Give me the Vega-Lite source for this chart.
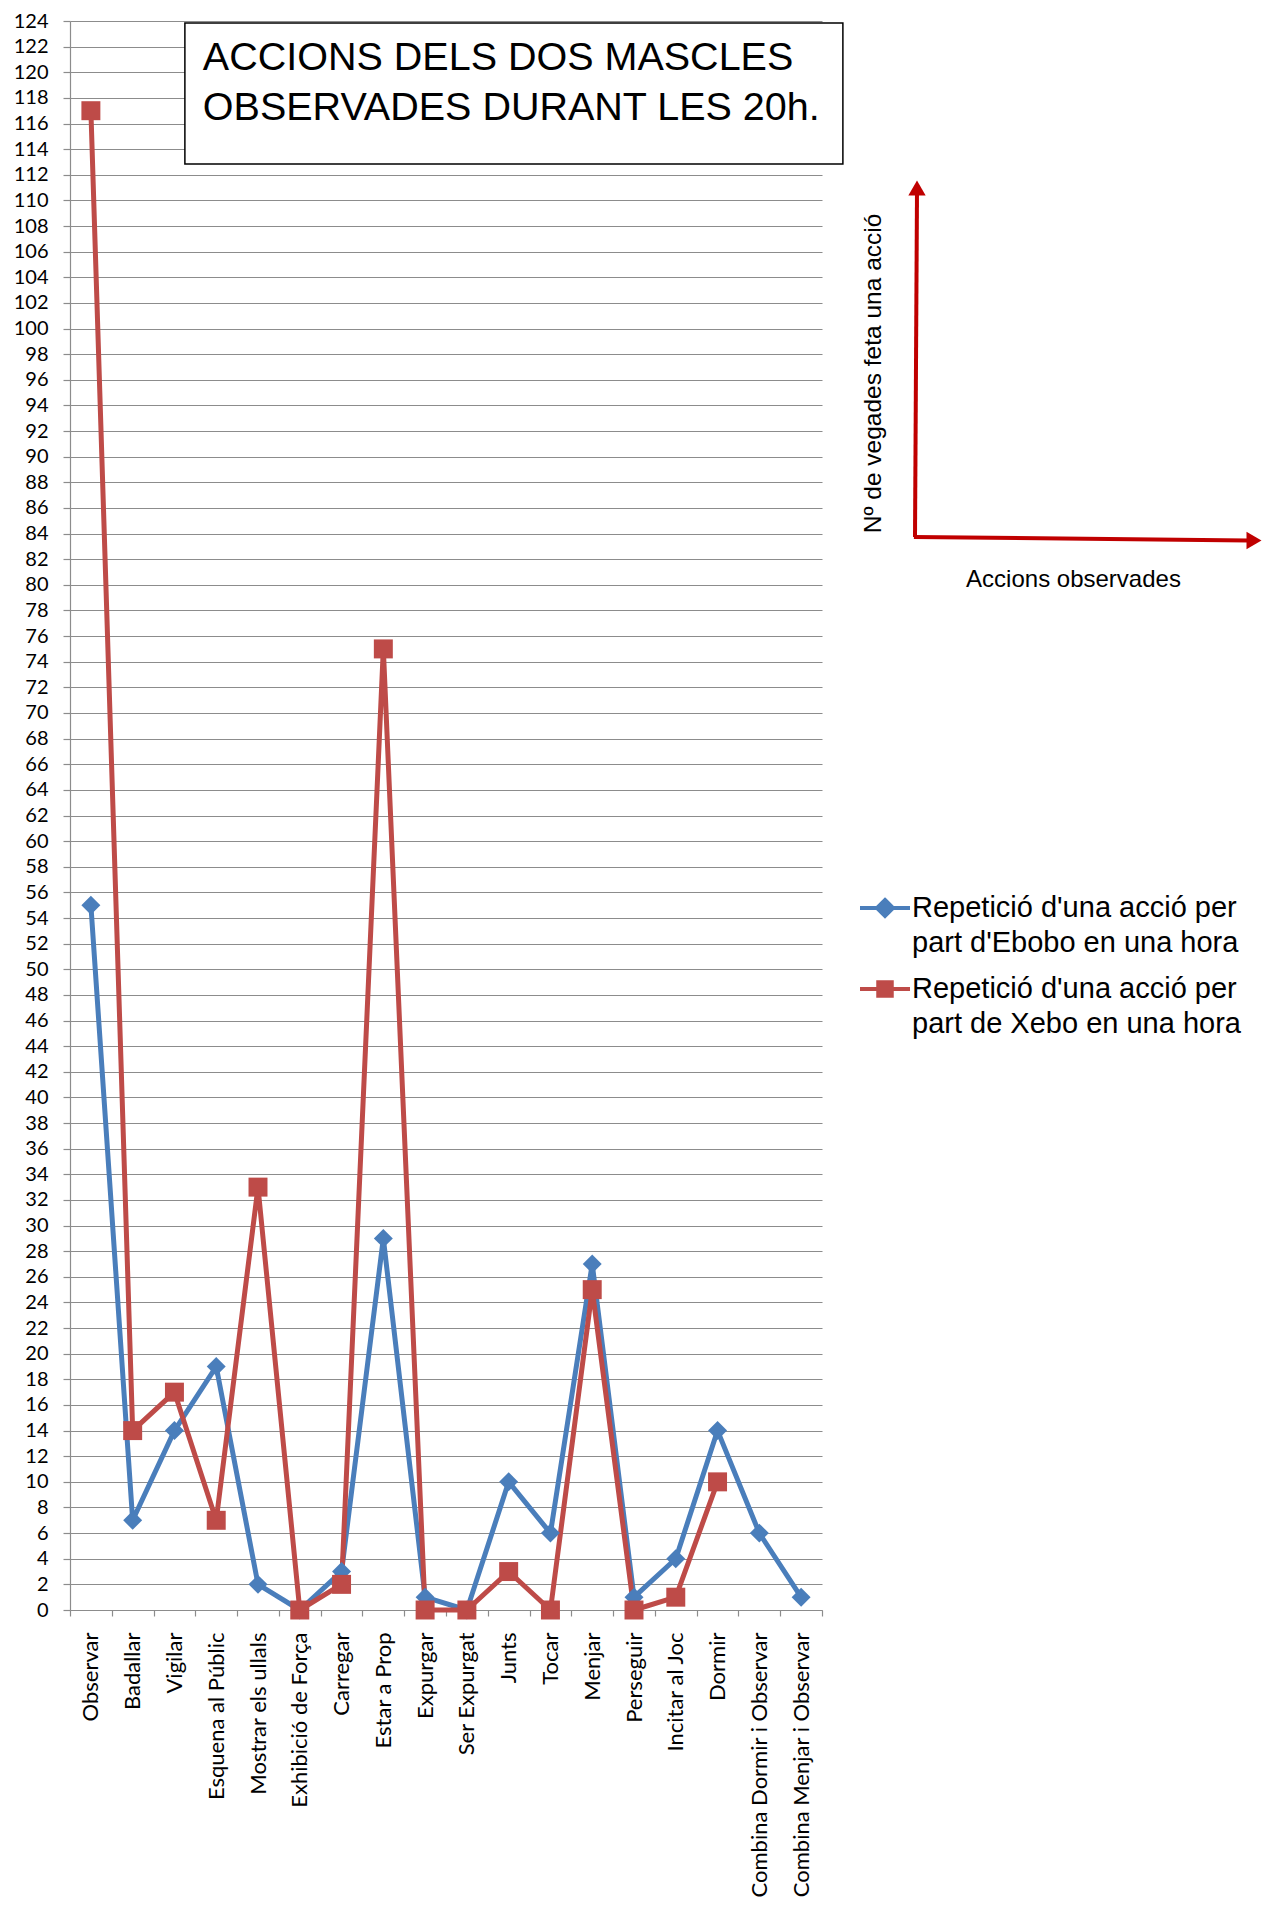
{
  "$schema": "https://vega.github.io/schema/vega-lite/v6.json",
  "autosize": "none",
  "width": 752,
  "height": 1589,
  "padding": {"left": 70, "top": 21, "right": 442, "bottom": 322},
  "background": "white",
  "config": {"view": {"stroke": null}, "font": "Liberation Sans"},
  "datasets": {
    "acc": [
      {"accio": "Observar", "serie": "Repetició d'una acció per part d'Ebobo en una hora", "n": 55},
      {"accio": "Badallar", "serie": "Repetició d'una acció per part d'Ebobo en una hora", "n": 7},
      {"accio": "Vigilar", "serie": "Repetició d'una acció per part d'Ebobo en una hora", "n": 14},
      {"accio": "Esquena al Públic", "serie": "Repetició d'una acció per part d'Ebobo en una hora", "n": 19},
      {"accio": "Mostrar els ullals", "serie": "Repetició d'una acció per part d'Ebobo en una hora", "n": 2},
      {"accio": "Exhibició de Força", "serie": "Repetició d'una acció per part d'Ebobo en una hora", "n": 0},
      {"accio": "Carregar", "serie": "Repetició d'una acció per part d'Ebobo en una hora", "n": 3},
      {"accio": "Estar a Prop", "serie": "Repetició d'una acció per part d'Ebobo en una hora", "n": 29},
      {"accio": "Expurgar", "serie": "Repetició d'una acció per part d'Ebobo en una hora", "n": 1},
      {"accio": "Ser Expurgat", "serie": "Repetició d'una acció per part d'Ebobo en una hora", "n": 0},
      {"accio": "Junts", "serie": "Repetició d'una acció per part d'Ebobo en una hora", "n": 10},
      {"accio": "Tocar", "serie": "Repetició d'una acció per part d'Ebobo en una hora", "n": 6},
      {"accio": "Menjar", "serie": "Repetició d'una acció per part d'Ebobo en una hora", "n": 27},
      {"accio": "Perseguir", "serie": "Repetició d'una acció per part d'Ebobo en una hora", "n": 1},
      {"accio": "Incitar al Joc", "serie": "Repetició d'una acció per part d'Ebobo en una hora", "n": 4},
      {"accio": "Dormir", "serie": "Repetició d'una acció per part d'Ebobo en una hora", "n": 14},
      {"accio": "Combina Dormir i Observar", "serie": "Repetició d'una acció per part d'Ebobo en una hora", "n": 6},
      {"accio": "Combina Menjar i Observar", "serie": "Repetició d'una acció per part d'Ebobo en una hora", "n": 1},
      {"accio": "Observar", "serie": "Repetició d'una acció per part de Xebo en una hora", "n": 117},
      {"accio": "Badallar", "serie": "Repetició d'una acció per part de Xebo en una hora", "n": 14},
      {"accio": "Vigilar", "serie": "Repetició d'una acció per part de Xebo en una hora", "n": 17},
      {"accio": "Esquena al Públic", "serie": "Repetició d'una acció per part de Xebo en una hora", "n": 7},
      {"accio": "Mostrar els ullals", "serie": "Repetició d'una acció per part de Xebo en una hora", "n": 33},
      {"accio": "Exhibició de Força", "serie": "Repetició d'una acció per part de Xebo en una hora", "n": 0},
      {"accio": "Carregar", "serie": "Repetició d'una acció per part de Xebo en una hora", "n": 2},
      {"accio": "Estar a Prop", "serie": "Repetició d'una acció per part de Xebo en una hora", "n": 75},
      {"accio": "Expurgar", "serie": "Repetició d'una acció per part de Xebo en una hora", "n": 0},
      {"accio": "Ser Expurgat", "serie": "Repetició d'una acció per part de Xebo en una hora", "n": 0},
      {"accio": "Junts", "serie": "Repetició d'una acció per part de Xebo en una hora", "n": 3},
      {"accio": "Tocar", "serie": "Repetició d'una acció per part de Xebo en una hora", "n": 0},
      {"accio": "Menjar", "serie": "Repetició d'una acció per part de Xebo en una hora", "n": 25},
      {"accio": "Perseguir", "serie": "Repetició d'una acció per part de Xebo en una hora", "n": 0},
      {"accio": "Incitar al Joc", "serie": "Repetició d'una acció per part de Xebo en una hora", "n": 1},
      {"accio": "Dormir", "serie": "Repetició d'una acció per part de Xebo en una hora", "n": 10}
    ]
  },
  "layer": [
    {
      "data": {"name": "acc"},
      "encoding": {
        "x": {
          "field": "accio",
          "type": "nominal",
          "sort": ["Observar", "Badallar", "Vigilar", "Esquena al Públic", "Mostrar els ullals", "Exhibició de Força", "Carregar", "Estar a Prop", "Expurgar", "Ser Expurgat", "Junts", "Tocar", "Menjar", "Perseguir", "Incitar al Joc", "Dormir", "Combina Dormir i Observar", "Combina Menjar i Observar"],
          "scale": {"type": "band", "paddingInner": 0, "paddingOuter": 0},
          "bandPosition": 0.5,
          "axis": {
            "title": null,
            "labelAngle": -90,
            "labelFont": "Lato",
            "labelFontSize": 22,
            "labelColor": "#000000",
            "labelPadding": 16,
            "labelLimit": 0,
            "tickBand": "extent",
            "tickSize": 6,
            "tickColor": "#8c8c8c",
            "tickWidth": 1.2,
            "domainColor": "#8c8c8c",
            "domainWidth": 1.2,
            "grid": false
          }
        },
        "y": {
          "field": "n",
          "type": "quantitative",
          "title": null,
          "scale": {"domain": [0, 124], "nice": false},
          "axis": {
            "title": null,
            "values": [0, 2, 4, 6, 8, 10, 12, 14, 16, 18, 20, 22, 24, 26, 28, 30, 32, 34, 36, 38, 40, 42, 44, 46, 48, 50, 52, 54, 56, 58, 60, 62, 64, 66, 68, 70, 72, 74, 76, 78, 80, 82, 84, 86, 88, 90, 92, 94, 96, 98, 100, 102, 104, 106, 108, 110, 112, 114, 116, 118, 120, 122, 124],
            "tickCount": 200,
            "format": "d",
            "labelOverlap": false,
            "labelFont": "Lato",
            "labelFontSize": 20,
            "labelColor": "#000000",
            "labelPadding": 15,
            "tickSize": 7,
            "tickColor": "#8c8c8c",
            "tickWidth": 1.2,
            "domainColor": "#8c8c8c",
            "domainWidth": 1.2,
            "grid": true,
            "gridColor": "#8c8c8c",
            "gridWidth": 1.2
          }
        },
        "color": {
          "field": "serie",
          "type": "nominal",
          "scale": {"domain": ["Repetició d'una acció per part d'Ebobo en una hora", "Repetició d'una acció per part de Xebo en una hora"], "range": ["#4A7EBB", "#BE4B48"]},
          "legend": {
            "title": null,
            "orient": "none",
            "legendX": 788,
            "legendY": 860,
            "padding": 0,
            "labelFont": "Liberation Sans",
            "labelFontSize": 29,
            "labelColor": "#000000",
            "labelLimit": 0,
            "labelOffset": 0,
            "rowPadding": 4,
            "labelExpr": "[slice(datum.label, 0, 25), slice(datum.label, 26)]",
            "encode": {
              "symbols": {
                "update": {
                  "shape": {"signal": "indexof(datum.value, 'Ebobo') >= 0 ? 'M-1,0L1,0M0,-0.32L0.32,0L0,0.32L-0.32,0Z' : 'M-1,0L1,0M-0.27,-0.27L0.27,-0.27L0.27,0.27L-0.27,0.27Z'"},
                  "size": {"value": 2500},
                  "strokeWidth": {"value": 4},
                  "fill": {"signal": "indexof(datum.value, 'Ebobo') >= 0 ? '#4A7EBB' : '#BE4B48'"},
                  "stroke": {"signal": "indexof(datum.value, 'Ebobo') >= 0 ? '#4A7EBB' : '#BE4B48'"},
                  "opacity": {"value": 1}
                }
              },
              "labels": {
                "update": {
                  "lineHeight": {"value": 35},
                  "baseline": {"value": "middle"}
                }
              }
            }
          }
        }
      },
      "layer": [
        {"mark": {"type": "line", "strokeWidth": 5, "strokeJoin": "round"}},
        {
          "mark": {"type": "point", "filled": true, "opacity": 1, "size": 360},
          "encoding": {
            "shape": {"field": "serie", "type": "nominal", "scale": {"range": ["diamond", "square"]}, "legend": null}
          }
        }
      ]
    },
    {
      "data": {"values": [{}]},
      "layer": [
        {
          "mark": {"type": "rect", "fill": "white", "stroke": "black", "strokeWidth": 1.5},
          "encoding": {
            "x": {"datum": 2.75, "type": "quantitative", "scale": {"domain": [0, 18]}, "axis": null},
            "x2": {"datum": 18.5},
            "y": {"datum": 112.84, "type": "quantitative", "title": null},
            "y2": {"datum": 123.84}
          }
        },
        {
          "mark": {"type": "text", "align": "left", "baseline": "alphabetic", "font": "Liberation Sans", "fontSize": 39.5, "lineHeight": 50, "color": "black"},
          "encoding": {
            "x": {"datum": 3.18, "type": "quantitative", "scale": {"domain": [0, 18]}, "axis": null},
            "y": {"datum": 120.17, "type": "quantitative", "title": null},
            "text": {"value": ["ACCIONS DELS DOS MASCLES", "OBSERVADES DURANT LES 20h."]}
          }
        },
        {
          "mark": {"type": "rule", "color": "#C00000", "strokeWidth": 4},
          "encoding": {
            "x": {"datum": 20.226, "type": "quantitative", "scale": {"domain": [0, 18]}, "axis": null},
            "x2": {"datum": 20.274},
            "y": {"datum": 83.73, "type": "quantitative", "title": null},
            "y2": {"datum": 110.7}
          }
        },
        {
          "mark": {"type": "rule", "color": "#C00000", "strokeWidth": 4},
          "encoding": {
            "x": {"datum": 20.2, "type": "quantitative", "scale": {"domain": [0, 18]}, "axis": null},
            "x2": {"datum": 28.2},
            "y": {"datum": 83.73, "type": "quantitative", "title": null},
            "y2": {"datum": 83.46}
          }
        },
        {
          "mark": {"type": "point", "shape": "triangle-up", "filled": true, "color": "#C00000", "opacity": 1, "size": 300},
          "encoding": {
            "x": {"datum": 20.274, "type": "quantitative", "scale": {"domain": [0, 18]}, "axis": null},
            "y": {"datum": 110.96, "type": "quantitative", "title": null}
          }
        },
        {
          "mark": {"type": "point", "shape": "triangle-right", "filled": true, "color": "#C00000", "opacity": 1, "size": 300},
          "encoding": {
            "x": {"datum": 28.34, "type": "quantitative", "scale": {"domain": [0, 18]}, "axis": null},
            "y": {"datum": 83.46, "type": "quantitative", "title": null}
          }
        },
        {
          "mark": {"type": "text", "angle": 270, "align": "center", "baseline": "middle", "font": "Liberation Sans", "fontSize": 24.5, "color": "black"},
          "encoding": {
            "x": {"datum": 19.24, "type": "quantitative", "scale": {"domain": [0, 18]}, "axis": null},
            "y": {"datum": 96.5, "type": "quantitative", "title": null},
            "text": {"value": "Nº de vegades feta una acció"}
          }
        },
        {
          "mark": {"type": "text", "align": "center", "baseline": "alphabetic", "font": "Liberation Sans", "fontSize": 24, "color": "black"},
          "encoding": {
            "x": {"datum": 24.02, "type": "quantitative", "scale": {"domain": [0, 18]}, "axis": null},
            "y": {"datum": 79.83, "type": "quantitative", "title": null},
            "text": {"value": "Accions observades"}
          }
        }
      ]
    }
  ],
  "resolve": {"scale": {"x": "independent"}}
}
